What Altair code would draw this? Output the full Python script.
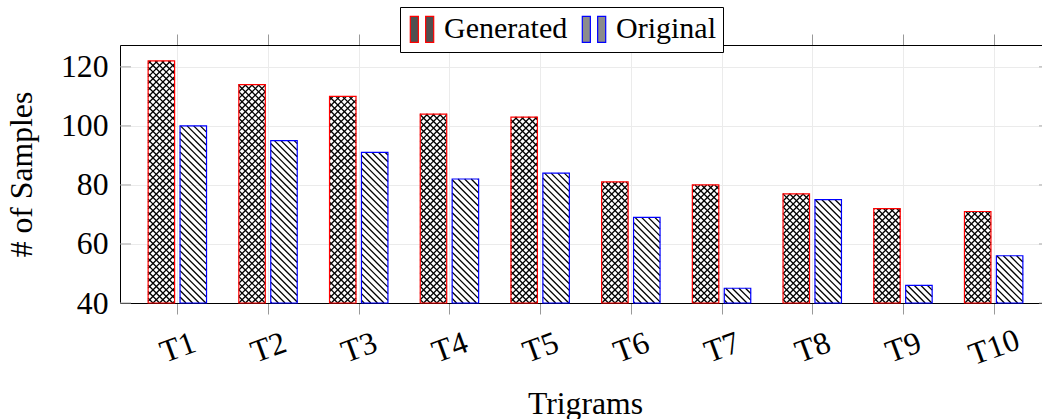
import math
import json
import altair as alt
import pandas as pd

# ---------------- data ----------------
categories = ["T1", "T2", "T3", "T4", "T5", "T6", "T7", "T8", "T9", "T10"]
generated = [122, 114, 110, 104, 103, 81, 80, 77, 72, 71]
original = [100, 95, 91, 82, 84, 69, 45, 75, 46, 56]
series_names = ["Generated", "Original"]
series_colors = ["#ff0000", "#0000ff"]
legend_fills = ["#505050", "#8c8c8c"]
y_ticks = [40, 60, 80, 100, 120]

# ---------------- layout ----------------
W, H = 922, 258
X_LO, X_HI = 0.368, 10.533
Y_LO, Y_HI = 40, 127.4
KX = W / (X_HI - X_LO)
KY = H / (Y_HI - Y_LO)
OFFSET = 0.176
HALF = 0.146
FONT = "Liberation Serif"
AX_FS = 31.7

rows = []
for i, c in enumerate(categories):
    for s, vals, off in ((series_names[0], generated, -OFFSET), (series_names[1], original, OFFSET)):
        rows.append(dict(cat=c, idx=i + 1, series=s, value=vals[i],
                         x0=i + 1 + off - HALF, x1=i + 1 + off + HALF))
bars = pd.DataFrame(rows)


def hatch(x0, x1, v, dirs, p):
    X0 = (x0 - X_LO) * KX
    X1 = (x1 - X_LO) * KX
    Y0 = 0.0
    Y1 = (v - Y_LO) * KY
    segs = []
    for d in dirs:
        if d == "nw":  # X + Y = c  (top-left to bottom-right)
            kmin = math.floor((X0 + Y0) / p)
            kmax = math.ceil((X1 + Y1) / p)
            for k in range(kmin, kmax + 1):
                c = k * p
                xa = max(X0, c - Y1)
                xb = min(X1, c - Y0)
                if xb - xa > 0.4:
                    segs.append((xa, c - xa, xb, c - xb))
        else:  # Y - X = c  (bottom-left to top-right)
            kmin = math.floor((Y0 - X1) / p)
            kmax = math.ceil((Y1 - X0) / p)
            for k in range(kmin, kmax + 1):
                c = k * p
                xa = max(X0, Y0 - c)
                xb = min(X1, Y1 - c)
                if xb - xa > 0.4:
                    segs.append((xa, xa + c, xb, xb + c))
    out = []
    for (xa, ya, xb, yb) in segs:
        out.append(dict(hx0=X_LO + xa / KX, hy0=Y_LO + ya / KY,
                        hx1=X_LO + xb / KX, hy1=Y_LO + yb / KY))
    return out


hrows = []
for r in rows:
    if r["series"] == "Generated":
        hrows += hatch(r["x0"], r["x1"], r["value"], ("nw", "ne"), 6.6)
    else:
        hrows += hatch(r["x0"], r["x1"], r["value"], ("nw",), 6.6)
hatch_df = pd.DataFrame(hrows)

tick_df = pd.DataFrame(dict(t=y_ticks))

xscale = alt.Scale(domain=[X_LO, X_HI], nice=False, zero=False)
yscale = alt.Scale(domain=[Y_LO, Y_HI], nice=False, zero=False)

label_expr = json.dumps(categories) + "[datum.value - 1]"

# legend symbol: two narrow bars
sym_path = "M-0.9,-1H-0.28V1H-0.9Z M0.28,-1H0.9V1H0.28Z"

legend = alt.Legend(
    orient="none", legendX=280, legendY=-38, direction="horizontal", columns=2,
    title=None, labelFont=FONT, labelFontSize=30, labelColor="black",
    symbolType=sym_path, symbolSize=676, symbolStrokeWidth=1.2,
    strokeColor="black", fillColor="white",
    padding=7, labelOffset=7, columnPadding=11, cornerRadius=0,
)

bottom_axis = alt.Axis(
    orient="bottom", values=list(range(1, len(categories) + 1)), labelExpr=label_expr,
    labelAngle=340, labelAlign="center", labelBaseline="middle", labelPadding=33,
    labelFont=FONT, labelFontSize=AX_FS, labelColor="black",
    tickSize=11, tickColor="#999999", domainColor="black", domainWidth=1,
    grid=True, gridColor="#ebebeb",
    title="Trigrams", titleFont=FONT, titleFontSize=AX_FS, titleFontWeight="normal",
    titleColor="black", titleX=465, titleY=110, titleBaseline="alphabetic", titleAlign="center",
)

top_axis = alt.Axis(
    orient="top", values=list(range(1, len(categories) + 1)), labels=False,
    tickSize=11, tickColor="#999999", domainColor="black", domainWidth=1,
    grid=False, title=None,
)

left_axis = alt.Axis(
    orient="left", values=y_ticks, ticks=False, labelPadding=12,
    labelFont=FONT, labelFontSize=AX_FS, labelColor="black",
    domainColor="black", domainWidth=1, grid=True, gridColor="#ebebeb",
    title="# of Samples", titleFont=FONT, titleFontSize=AX_FS, titleFontWeight="normal",
    titleColor="black", titleX=-89, titleY=129, titleAngle=270,
    titleBaseline="alphabetic", titleAlign="center",
)

stroke_scale = alt.Scale(domain=series_names, range=series_colors)

outline = alt.Chart(bars).mark_bar(filled=False, strokeWidth=1.2).encode(
    x=alt.X("x0:Q", scale=xscale, axis=bottom_axis),
    x2="x1:Q",
    y=alt.Y("value:Q", scale=yscale, axis=left_axis),
    y2=alt.datum(Y_LO),
    stroke=alt.Stroke("series:N", scale=stroke_scale, legend=legend),
)

# layer that only supplies the legend (filled swatches); draws no marks
legend_layer = alt.Chart(bars).transform_filter("false").mark_bar(strokeWidth=1.2).encode(
    x=alt.X("x0:Q", scale=xscale, axis=None),
    x2="x1:Q",
    y=alt.Y("value:Q", scale=yscale, axis=None),
    y2=alt.datum(Y_LO),
    fill=alt.Fill("series:N", scale=alt.Scale(domain=series_names, range=legend_fills), legend=legend),
    stroke=alt.Stroke("series:N", scale=stroke_scale, legend=legend),
)

hatch_layer = alt.Chart(hatch_df).mark_rule(color="black", strokeWidth=1.3).encode(
    x=alt.X("hx0:Q", scale=xscale, axis=top_axis),
    x2="hx1:Q",
    y=alt.Y("hy0:Q", scale=yscale, axis=None),
    y2="hy1:Q",
)

left_ticks = alt.Chart(tick_df).mark_rule(color="#aaaaaa", strokeWidth=1).encode(
    x=alt.datum(X_LO, scale=xscale, axis=None),
    x2=alt.datum(X_LO + 11 / KX),
    y=alt.Y("t:Q", scale=yscale, axis=None),
)

right_ticks = alt.Chart(tick_df).mark_rule(color="#aaaaaa", strokeWidth=1).encode(
    x=alt.datum(X_HI - 3 / KX, scale=xscale, axis=None),
    x2=alt.datum(X_HI),
    y=alt.Y("t:Q", scale=yscale, axis=None),
)

chart = alt.layer(left_ticks, right_ticks, hatch_layer, outline, legend_layer).resolve_axis(
    x="independent", y="independent"
).properties(
    width=W, height=H,
    autosize=alt.AutoSizeParams(type="none"),
    padding={"left": 120, "top": 45, "right": 0, "bottom": 116},
    background="white",
).configure_view(stroke=None)

chart.save("out.html", embed_options={"renderer": "svg", "actions": False})
